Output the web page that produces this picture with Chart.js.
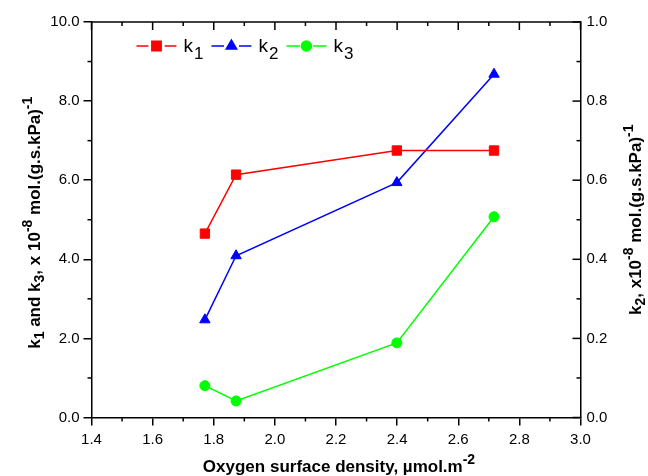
<!DOCTYPE html>
<html>
<head>
<meta charset="utf-8">
<script src="https://cdn.jsdelivr.net/npm/chart.js@4.4.1/dist/chart.umd.min.js"></script>
<style>
  body { margin:0; background:#fff; }
  #wrap { width:648px; height:476px; }
</style>
</head>
<body>
<div id="wrap"><canvas id="kChart" width="648" height="476"></canvas></div>
<script>
// data
const xValues = [1.771, 1.873, 2.399, 2.717];        // oxygen surface density
const k1Values = [4.65, 6.14, 6.75, 6.75];           // left axis
const k2Values = [0.247, 0.409, 0.594, 0.868];       // right axis
const k3Values = [0.805, 0.418, 1.886, 5.076];       // left axis

const xTickValues = [1.4, 1.6, 1.8, 2.0, 2.2, 2.4, 2.6, 2.8, 3.0];
const leftTickValues = [0, 2, 4, 6, 8, 10];
const rightTickValues = [0, 0.2, 0.4, 0.6, 0.8, 1.0];

const FONT = "'Liberation Sans', Arial, sans-serif";
const pts = vals => xValues.map((x, i) => ({ x, y: vals[i] }));

const datasets = [
  { label:'k1', sub:'1', data:pts(k1Values), yAxisID:'y',  color:'#ff0000', pointStyle:'rect',     pointRadius:6.6 },
  { label:'k2', sub:'2', data:pts(k2Values), yAxisID:'y2', color:'#0000ff', pointStyle:'triangle', pointRadius:6 },
  { label:'k3', sub:'3', data:pts(k3Values), yAxisID:'y',  color:'#00ff00', pointStyle:'circle',   pointRadius:5 }
].map(d => ({
  ...d,
  showLine:true,
  borderColor:d.color, backgroundColor:d.color,
  borderWidth:1.5,
  pointBackgroundColor:d.color, pointBorderColor:d.color, pointBorderWidth:1,
  pointHoverRadius:d.pointRadius
}));

// draw text runs with sub/superscripts, centred on (cx, cy)
function drawRich(ctx, parts, cx, cy, rot, size, bold) {
  const w = bold ? 'bold ' : '';
  const small = Math.round(size * 0.8);
  ctx.save();
  ctx.translate(cx, cy);
  if (rot) ctx.rotate(rot);
  let total = 0;
  parts.forEach(p => {
    ctx.font = w + (p.s ? small : size) + 'px ' + FONT;
    p.w = ctx.measureText(p.t).width;
    total += p.w;
  });
  let x = -total / 2;
  ctx.fillStyle = '#000';
  ctx.textBaseline = 'middle';
  ctx.textAlign = 'left';
  parts.forEach(p => {
    ctx.font = w + (p.s ? small : size) + 'px ' + FONT;
    const dy = p.s === 'sub' ? size * 0.33 : p.s === 'sup' ? -size * 0.42 : 0;
    ctx.fillText(p.t, x, dy);
    x += p.w;
  });
  ctx.restore();
  return total;
}

const decor = {
  id:'decor',
  afterDraw(chart) {
    const { ctx, chartArea:a, scales:{ x, y, y2 } } = chart;
    ctx.save();
    ctx.strokeStyle = '#000';
    ctx.lineWidth = 1.5;
    const seg = (x1, y1, x2, y2_) => { ctx.beginPath(); ctx.moveTo(x1, y1); ctx.lineTo(x2, y2_); ctx.stroke(); };
    // top frame
    seg(a.left, a.top, a.right, a.top);
    // x minor ticks (bottom outward, top inward) and top major ticks
    xTickValues.forEach((v, i) => {
      const px = x.getPixelForValue(v);
      seg(px, a.top, px, a.top + 8);
      if (i > 0) {
        const mx = x.getPixelForValue(v - 0.1);
        seg(mx, a.bottom, mx, a.bottom + 4);
        seg(mx, a.top, mx, a.top + 4);
      }
    });
    // left minor ticks
    leftTickValues.slice(1).forEach(v => {
      const py = y.getPixelForValue(v - 1);
      seg(a.left - 4, py, a.left, py);
    });
    // right ticks, inward
    rightTickValues.forEach((v, i) => {
      const py = y2.getPixelForValue(v);
      seg(a.right - 8, py, a.right, py);
      if (i > 0) {
        const my = y2.getPixelForValue(v - 0.1);
        seg(a.right - 4, my, a.right, my);
      }
    });
    ctx.restore();

    // axis titles
    drawRich(ctx, [{t:'Oxygen surface density, µmol.m'}, {t:'-2', s:'sup'}],
      (a.left + a.right) / 2 + 3, 467, 0, 17, true);
    drawRich(ctx, [{t:'k'}, {t:'1', s:'sub'}, {t:' and k'}, {t:'3', s:'sub'}, {t:', x 10'}, {t:'-8', s:'sup'},
      {t:' mol.(g.s.kPa)'}, {t:'-1', s:'sup'}], 35, (a.top + a.bottom) / 2 + 3, -Math.PI / 2, 17, true);
    drawRich(ctx, [{t:'k'}, {t:'2', s:'sub'}, {t:', x10'}, {t:'-8', s:'sup'},
      {t:' mol.(g.s.kPa)'}, {t:'-1', s:'sup'}], 636, (a.top + a.bottom) / 2, -Math.PI / 2, 17, true);

    // legend
    let lx = a.left + 45;
    const ly = 46;
    chart.data.datasets.forEach(ds => {
      ctx.save();
      ctx.strokeStyle = ds.color;
      ctx.lineWidth = 1.5;
      const r = ds.pointRadius;
      seg(lx, ly, lx + 20 - r - 1.5, ly);
      seg(lx + 20 + r + 1.5, ly, lx + 40, ly);
      ctx.fillStyle = ds.color;
      Chart.helpers.drawPoint(ctx, { pointStyle:ds.pointStyle, radius:r, borderWidth:1 }, lx + 20, ly);
      ctx.restore();
      ctx.save();
      ctx.fillStyle = '#000';
      ctx.textBaseline = 'alphabetic';
      ctx.font = '19px ' + FONT;
      const tx = lx + 47;
      ctx.fillText('k', tx, ly + 6);
      const kw = ctx.measureText('k').width;
      ctx.font = '17px ' + FONT;
      ctx.fillText(ds.sub, tx + kw + 1, ly + 13);
      const sw = ctx.measureText(ds.sub).width;
      ctx.restore();
      lx = tx + kw + 1 + sw + 8;
    });
  }
};

const tickFont = { family:FONT, size:15 };

new Chart(document.getElementById('kChart'), {
  type:'scatter',
  data:{ datasets },
  options:{
    responsive:false,
    animation:false,
    layout:{ padding:{ top:22, left:0, right:0, bottom:0 } },
    plugins:{ legend:{ display:false }, tooltip:{ enabled:false } },
    scales:{
      x:{
        type:'linear', position:'bottom', min:1.4, max:3.0,
        afterBuildTicks:s => { s.ticks = xTickValues.map(v => ({ value:v })); },
        afterFit:s => { s.height = 58.5; },
        ticks:{ color:'#000', font:tickFont, padding:5, callback:v => v.toFixed(1), maxRotation:0 },
        grid:{ drawOnChartArea:false, color:'#000', lineWidth:1.5, tickLength:8 },
        border:{ display:true, color:'#000', width:1.5 }
      },
      y:{
        type:'linear', position:'left', min:0, max:10,
        afterBuildTicks:s => { s.ticks = leftTickValues.map(v => ({ value:v })); },
        afterFit:s => { s.width = 91.5; },
        ticks:{ color:'#000', font:tickFont, padding:4, callback:v => v.toFixed(1) },
        grid:{ drawOnChartArea:false, color:'#000', lineWidth:1.5, tickLength:8 },
        border:{ display:true, color:'#000', width:1.5 }
      },
      y2:{
        type:'linear', position:'right', min:0, max:1,
        afterBuildTicks:s => { s.ticks = rightTickValues.map(v => ({ value:v })); },
        afterFit:s => { s.width = 67.5; },
        ticks:{ color:'#000', font:tickFont, padding:6, callback:v => v.toFixed(1) },
        grid:{ display:false, drawOnChartArea:false, drawTicks:false },
        border:{ display:true, color:'#000', width:1.5 }
      }
    }
  },
  plugins:[decor]
});
</script>
</body>
</html>
